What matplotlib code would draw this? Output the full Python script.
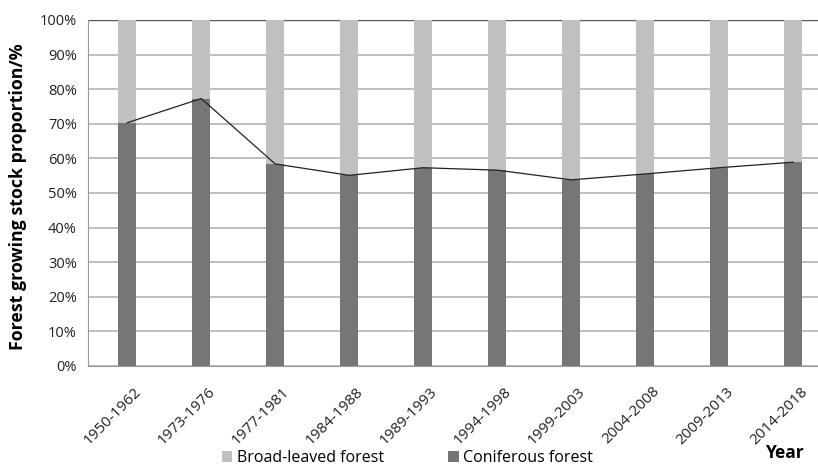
import numpy as np
import matplotlib
matplotlib.use('Agg')
import matplotlib.pyplot as plt
from matplotlib.ticker import PercentFormatter
import matplotlib.transforms as mtransforms

plt.rcParams['font.family'] = ['Open Sans', 'DejaVu Sans']

periods = ['1950-1962', '1973-1976', '1977-1981', '1984-1988', '1989-1993',
           '1994-1998', '1999-2003', '2004-2008', '2009-2013', '2014-2018']
coniferous = [70.3, 77.3, 58.4, 55.1, 57.3, 56.6, 53.8, 55.5, 57.3, 58.9]
broadleaved = [100 - v for v in coniferous]

fig = plt.figure(figsize=(8.18, 4.67), dpi=100)
ax = fig.add_axes([0.1076, 0.2163, 0.9046, 0.7409])

x = np.arange(len(periods))
ax.bar(x + 0.03, coniferous, width=0.25, color='#767676', label='Coniferous forest', zorder=3)
ax.bar(x + 0.03, broadleaved, width=0.25, bottom=coniferous, color='#c0c0c0',
       label='Broad-leaved forest', zorder=3)
ax.plot(x + 0.03, coniferous, color='#222222', lw=0.9, zorder=4)

ax.set_xlim(-0.5, len(periods) - 0.5)
ax.set_ylim(0, 100)
ax.set_yticks(np.arange(0, 101, 10))
ax.yaxis.set_major_formatter(PercentFormatter(decimals=0))
ax.grid(axis='y', color='#b4b4b4', lw=1.2, zorder=0)
ax.set_axisbelow(True)
for s in ['top', 'right']:
    ax.spines[s].set_visible(False)
ax.spines['left'].set_color('#9a9a9a')
ax.spines['bottom'].set_color('#9a9a9a')
ax.axhline(100, color='#555555', lw=1.0, zorder=2)
ax.tick_params(axis='y', length=0, labelsize=10.5, colors='#222222', pad=8)
ax.tick_params(axis='x', length=0, labelsize=11, colors='#222222', pad=13)
ax.set_xticks(x)
ax.set_xticklabels(periods, rotation=45, ha='right', rotation_mode='anchor')
shift = mtransforms.ScaledTranslation(9 / 100, 0, fig.dpi_scale_trans)
for lab in ax.get_xticklabels():
    lab.set_transform(lab.get_transform() + shift)

ax.set_ylabel('Forest growing stock proportion/%', fontsize=12.8, fontweight='bold')
ax.yaxis.set_label_coords(-0.083, 0.49)

fig.text(0.9597, 0.030, 'Year', fontsize=12.5, fontweight='bold', ha='center', va='center')

handles, labels = ax.get_legend_handles_labels()
leg = fig.legend(handles[::-1], labels[::-1], loc='center left',
                 bbox_to_anchor=(0.2714, 0.0193), ncol=2, frameon=False,
                 fontsize=11.5, handlelength=0.65, handleheight=0.65,
                 handletextpad=0.3, columnspacing=4.0, borderpad=0,
                 borderaxespad=0)

fig.savefig('out.png', dpi=100)
